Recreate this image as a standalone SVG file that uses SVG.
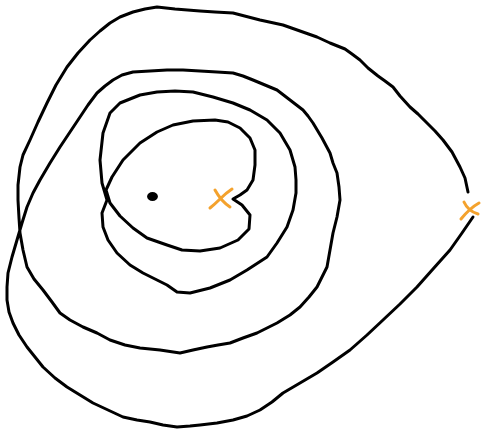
<svg xmlns="http://www.w3.org/2000/svg" width="482" height="430" viewBox="0 0 482 430">
<style>
.ink{fill:none;stroke:#000;stroke-width:3;stroke-linecap:round;stroke-linejoin:round}
.mark{fill:none;stroke:#f4a22d;stroke-width:3;stroke-linecap:round;stroke-linejoin:round}
</style>
<rect width="482" height="430" fill="#fff"/>
<g id="connectors">
<path id="outer-spiral" class="ink" d="M468,192 L465,178 L460,167 L452,152 L443,140 L435,131 L427,123 L418,114 L410,107 L400,96 L393,87 L385,81 L378,76 L368,68 L360,60 L352,54 L345,49 L330,43 L317,37 L300,31 L283,25 L260,20 L233,13 L215,12 L200,11 L175,9 L157,7 L145,9 L133,12 L120,17 L110,23 L100,31 L90,40 L78,53 L67,67 L56,85 L47,103 L38,122 L30,140 L23,155 L20,167 L18,185 L18,200 L19,218 L20,233 L23,250 L27,267 L34,279 L43,290 L52,302 L60,313 L70,320 L83,327 L97,333 L110,340 L125,345 L140,348 L160,350 L180,353 L193,350 L207,347 L218,345 L230,343 L243,338 L257,333 L267,328 L277,323 L290,315 L300,307 L309,297 L317,287 L322,277 L327,267 L330,250 L333,233 L337,217 L340,200 L339,187 L337,173 L333,163 L330,153 L322,138 L313,123 L308,116 L303,110 L290,100 L277,90 L265,85 L253,80 L243,76 L233,73 L217,72 L200,71 L183,70 L167,70 L150,71 L133,72 L122,75 L113,80 L105,86 L97,93 L88,105 L80,117 L70,132 L60,147 L50,163 L40,180 L33,193 L27,207 L22,223 L17,240 L12,257 L8,273 L7,287 L7,300 L9,312 L13,323 L19,335 L27,347 L35,357 L43,367 L55,378 L67,387 L80,395 L93,403 L108,410 L123,417 L137,420 L150,422 L163,425 L177,427 L190,426 L200,425 L217,423 L233,420 L247,416 L260,410 L272,402 L283,393 L300,383 L317,373 L333,362 L350,350 L367,335 L383,320 L400,304 L417,287 L433,269 L450,250 L462,233 L473,217"/>
<path id="middle-loop" class="ink" d="M110,113 L120,103 L140,95 L157,92 L175,91 L193,92 L213,97 L233,103 L250,110 L267,120 L280,133 L290,150 L295,167 L296,180 L296,193 L293,210 L287,227 L277,243 L267,257 L247,270 L230,280 L210,288 L190,293 L177,292 L167,285 L157,280 L143,273 L130,265 L117,253 L108,240 L103,227 L102,213 L107,200 L102,183 L100,160 L103,133 L110,113 Z"/>
<path id="inner-loop" class="ink" d="M233,199 L240,195 L247,190 L253,180 L255,165 L255,150 L250,138 L240,128 L228,122 L215,120 L193,121 L173,125 L157,132 L140,143 L123,160 L112,177 L106,190 L110,203 L120,216 L133,228 L147,238 L167,245 L182,250 L200,251 L220,248 L238,240 L249,229 L250,215 L242,205 L233,199"/>
</g>
<g id="dot">
<ellipse cx="152.5" cy="196.5" rx="4.2" ry="3.2" fill="#000" stroke="#000" stroke-width="2.5"/>
</g>
<g id="mark-inner">
<path class="mark" d="M215,190 Q221,201 230,207"/>
<path class="mark" d="M232,189 Q226,193 220,199 Q215,204 210,208"/>
</g>
<g id="mark-outer">
<path class="mark" d="M464,202 Q468,211 478,214"/>
<path class="mark" d="M479,203 Q470,208 461,219"/>
</g>
</svg>
